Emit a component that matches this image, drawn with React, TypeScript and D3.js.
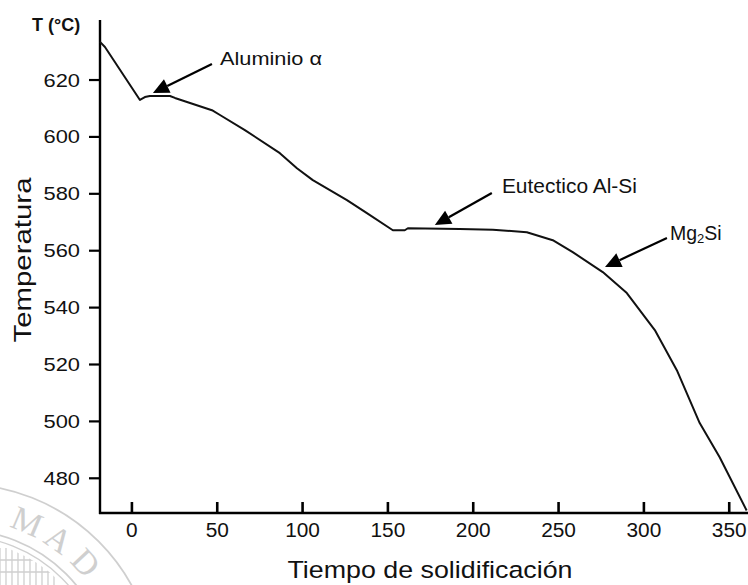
import React from 'react';
import * as d3 from 'd3';

// Cooling curve (time, temperature)
const timeValues = [-18.7, -15.8, 4.7, 7.6, 10.5, 22.3, 25.2, 46.9, 51.6, 66.2, 86.7, 96.7, 106.0, 126.0, 137.7, 152.9, 159.9, 161.7, 192.1, 211.5, 231.4, 246.6, 258.3, 275.9, 290.0, 306.4, 319.3, 332.7, 344.4, 360.2];
const tempValues = [633.4, 631.6, 613.0, 614.0, 614.4, 614.4, 613.7, 609.4, 607.7, 602.4, 594.3, 589.0, 584.8, 577.8, 573.2, 567.2, 567.2, 567.9, 567.6, 567.4, 566.5, 563.7, 559.5, 552.5, 545.1, 532.1, 518.0, 499.4, 487.4, 468.7];

const xTickValues = [0, 50, 100, 150, 200, 250, 300, 350];
const yTickValues = [480, 500, 520, 540, 560, 580, 600, 620];

const annotationLabels = ['Aluminio α', 'Eutectico Al-Si', 'Mg2Si'];
const annotationTextX = [51.6, 216.8, 315.3];
const annotationTextT = [625.3, 580.3, 563.8];
const arrowStartX = [46.9, 210.9, 313.5];
const arrowStartT = [625.6, 580.3, 564.5];
const arrowTipX = [12.3, 177.5, 277.2];
const arrowTipT = [615.4, 569.0, 554.3];

const xAxisTitle = 'Tiempo de solidificación';
const yAxisTitle = 'Temperatura';
const unitLabel = 'T (°C)';

const W = 748;
const H = 585;
const FONT = '"Liberation Sans", Arial, Helvetica, sans-serif';

export default function App() {
  const x = d3.scaleLinear().domain([-18.7, 361]).range([100, 748]);
  const y = d3.scaleLinear().domain([467.8, 641.1]).range([513, 20]);

  const pts: [number, number][] = timeValues.map((t, i) => [t, tempValues[i]]);
  const line = d3
    .line<[number, number]>()
    .x((d) => x(d[0]))
    .y((d) => y(d[1]))
    .curve(d3.curveLinear);

  const arrows = annotationLabels.map((lab, i) => {
    const sx = x(arrowStartX[i]);
    const sy = y(arrowStartT[i]);
    const tx = x(arrowTipX[i]);
    const ty = y(arrowTipT[i]);
    const dx = tx - sx;
    const dy = ty - sy;
    const len = Math.hypot(dx, dy);
    const ux = dx / len;
    const uy = dy / len;
    const hl = 16;
    const hw = 7.5;
    const bx = tx - ux * hl;
    const by = ty - uy * hl;
    const px = -uy;
    const py = ux;
    const head = `${tx},${ty} ${bx + px * hw},${by + py * hw} ${bx - px * hw},${by - py * hw}`;
    return { sx, sy, bx, by, head };
  });

  // watermark seal geometry
  const cx = -40;
  const cy = 680;
  const sealLetters = ['M', 'A', 'D'];
  const sealAngles = [-67, -55, -43];

  return (
    <svg
      width={W}
      height={H}
      viewBox={`0 0 ${W} ${H}`}
      style={{ position: 'absolute', left: 0, top: 0, background: '#fff' }}
    >
      <rect x={0} y={0} width={W} height={H} fill="#fff" />
      {/* faint watermark seal */}
      <g opacity={0.8} stroke="#c4c4c4" fill="none">
        <circle cx={cx} cy={cy} r={196} strokeWidth={1.8} />
        <circle cx={cx} cy={cy} r={150} strokeWidth={1.8} />
        <circle cx={cx} cy={cy} r={144} strokeWidth={1.3} />
        <clipPath id="sealInner">
          <circle cx={cx} cy={cy} r={140} />
        </clipPath>
        <g clipPath="url(#sealInner)" strokeWidth={1.3}>
          {d3.range(0, 60, 6).map((v) => (
            <line key={v} x1={v} x2={v} y1={548} y2={585} />
          ))}
          <line x1={0} x2={60} y1={560} y2={560} />
          <line x1={0} x2={60} y1={572} y2={572} />
        </g>
        {sealLetters.map((l, i) => {
          const a = (sealAngles[i] * Math.PI) / 180;
          const r = 172;
          const lx = cx + r * Math.cos(a);
          const ly = cy + r * Math.sin(a);
          return (
            <text
              key={l}
              x={0}
              y={0}
              transform={`translate(${lx},${ly}) rotate(${sealAngles[i] + 90})`}
              textAnchor="middle"
              dominantBaseline="central"
              fontFamily='"Liberation Serif", "Times New Roman", serif'
              fontSize={34}
              fill="#c4c4c4"
              stroke="none"
            >
              {l}
            </text>
          );
        })}
      </g>

      {/* axes */}
      <line x1={100} x2={100} y1={20} y2={514} stroke="#000" strokeWidth={2.4} />
      <line x1={99} x2={748} y1={513} y2={513} stroke="#000" strokeWidth={2.6} />
      {yTickValues.map((v) => (
        <g key={v}>
          <line x1={89} x2={100} y1={y(v)} y2={y(v)} stroke="#000" strokeWidth={2.2} />
          <text
            x={80}
            y={y(v) + 6.5}
            textAnchor="end"
            fontFamily={FONT}
            fontSize={18.5}
            textLength={36.5}
            lengthAdjust="spacingAndGlyphs"
            fill="#111"
          >
            {v}
          </text>
        </g>
      ))}
      {xTickValues.map((v) => (
        <g key={v}>
          <line x1={x(v)} x2={x(v)} y1={502} y2={513} stroke="#000" strokeWidth={2.6} />
          <text
            x={x(v)}
            y={537}
            textAnchor="middle"
            fontFamily={FONT}
            fontSize={19.5}
            textLength={String(v).length * 11.6}
            lengthAdjust="spacingAndGlyphs"
            fill="#111"
          >
            {v}
          </text>
        </g>
      ))}

      {/* titles */}
      <text x={32} y={31} fontFamily={FONT} fontSize={18} fontWeight="bold" fill="#111">
        {unitLabel}
      </text>
      <text
        transform="translate(31,260) rotate(-90)"
        textAnchor="middle"
        fontFamily={FONT}
        fontSize={24}
        textLength={165}
        lengthAdjust="spacingAndGlyphs"
        fill="#111"
      >
        {yAxisTitle}
      </text>
      <text
        x={430}
        y={578}
        textAnchor="middle"
        fontFamily={FONT}
        fontSize={24.5}
        textLength={285}
        lengthAdjust="spacingAndGlyphs"
        fill="#111"
      >
        {xAxisTitle}
      </text>

      {/* cooling curve */}
      <path d={line(pts) || ''} fill="none" stroke="#111" strokeWidth={2} strokeLinejoin="round" />

      {/* annotations */}
      {arrows.map((a, i) => (
        <g key={i}>
          <line x1={a.sx} y1={a.sy} x2={a.bx} y2={a.by} stroke="#000" strokeWidth={2.2} />
          <polygon points={a.head} fill="#000" />
        </g>
      ))}
      <text
        x={x(annotationTextX[0])}
        y={y(annotationTextT[0])}
        fontFamily={FONT}
        fontSize={18.5}
        textLength={102}
        lengthAdjust="spacingAndGlyphs"
        fill="#111"
      >
        {annotationLabels[0]}
      </text>
      <text
        x={x(annotationTextX[1])}
        y={y(annotationTextT[1])}
        fontFamily={FONT}
        fontSize={20}
        textLength={135}
        lengthAdjust="spacingAndGlyphs"
        fill="#111"
      >
        {annotationLabels[1]}
      </text>
      <text x={x(annotationTextX[2])} y={y(annotationTextT[2])} fontFamily={FONT} fontSize={19.5} fill="#111">
        {annotationLabels[2].slice(0, 2)}
        <tspan fontSize={13} dy={3}>
          {annotationLabels[2].slice(2, 3)}
        </tspan>
        <tspan dy={-3}>{annotationLabels[2].slice(3)}</tspan>
      </text>
    </svg>
  );
}
